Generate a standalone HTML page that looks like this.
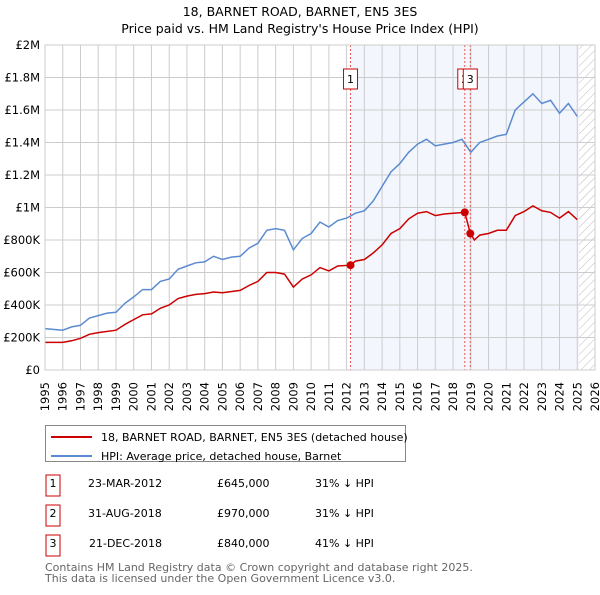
<!DOCTYPE html>
<html><head><meta charset="utf-8"><style>
body{margin:0;background:#fff;font-family:"Liberation Sans","DejaVu Sans",sans-serif;}
svg text{font-family:"DejaVu Sans","Liberation Sans",sans-serif;}
</style></head><body>
<svg id="chart" width="600" height="590" xmlns="http://www.w3.org/2000/svg">
<text x="300" y="16" text-anchor="middle" font-size="12.5">18, BARNET ROAD, BARNET, EN5 3ES</text>
<text x="300" y="33" text-anchor="middle" font-size="12.5">Price paid vs. HM Land Registry's House Price Index (HPI)</text>
<defs><pattern id="hatch" width="6" height="6" patternUnits="userSpaceOnUse" patternTransform="rotate(45)"><line x1="0" y1="0" x2="0" y2="6" stroke="#bbb" stroke-width="1"/></pattern></defs>
<g id="plot"></g>
<g>
<rect x="45.5" y="425.5" width="360" height="36" fill="#fff" stroke="#888"/>
<line x1="51" y1="437" x2="92" y2="437" stroke="#cc0000" stroke-width="2"/>
<text x="101" y="441" font-size="11">18, BARNET ROAD, BARNET, EN5 3ES (detached house)</text>
<line x1="51" y1="456" x2="92" y2="456" stroke="#5b8bd0" stroke-width="2"/>
<text x="101" y="460" font-size="11">HPI: Average price, detached house, Barnet</text>
</g>
<g font-size="11">
<rect x="46" y="475" width="14" height="21" fill="#fff" stroke="#cc0000"/><text x="53" y="487" text-anchor="middle">1</text>
<text x="88" y="487">23-MAR-2012</text><text x="217" y="487">£645,000</text><text x="315" y="487">31% ↓ HPI</text>
<rect x="46" y="505" width="14" height="21" fill="#fff" stroke="#cc0000"/><text x="53" y="517" text-anchor="middle">2</text>
<text x="88" y="517">31-AUG-2018</text><text x="217" y="517">£970,000</text><text x="315" y="517">31% ↓ HPI</text>
<rect x="46" y="535" width="14" height="21" fill="#fff" stroke="#cc0000"/><text x="53" y="547" text-anchor="middle">3</text>
<text x="89" y="547">21-DEC-2018</text><text x="217" y="547">£840,000</text><text x="315" y="547">41% ↓ HPI</text>
</g>
<text x="45" y="571" font-size="11" fill="#666">Contains HM Land Registry data © Crown copyright and database right 2025.</text>
<text x="45" y="582" font-size="11" fill="#666">This data is licensed under the Open Government Licence v3.0.</text>
</svg>
<script>
const hpiYears=[1995,1996,1996.5,1997,1997.5,1998,1998.5,1999,1999.5,2000,2000.5,2001,2001.5,2002,2002.5,2003,2003.5,2004,2004.5,2005,2005.5,2006,2006.5,2007,2007.5,2008,2008.5,2009,2009.5,2010,2010.5,2011,2011.5,2012,2012.5,2013,2013.5,2014,2014.5,2015,2015.5,2016,2016.5,2017,2017.5,2018,2018.5,2019,2019.5,2020,2020.5,2021,2021.5,2022,2022.5,2023,2023.5,2024,2024.5,2025];
const hpiValues=[255,245,265,275,320,335,350,355,410,450,495,495,545,560,620,640,660,665,700,680,695,700,750,780,860,870,860,740,810,840,910,880,920,935,965,980,1040,1130,1220,1270,1340,1390,1420,1380,1390,1400,1420,1340,1400,1420,1440,1450,1600,1650,1700,1640,1660,1580,1640,1560];
const priceYears=[1995,1996,1996.5,1997,1997.5,1998,1999,1999.5,2000,2000.5,2001,2001.5,2002,2002.5,2003,2003.5,2004,2004.5,2005,2006,2006.5,2007,2007.5,2008,2008.5,2009,2009.5,2010,2010.5,2011,2011.5,2012.22,2012.5,2013,2013.5,2014,2014.5,2015,2015.5,2016,2016.5,2017,2017.5,2018,2018.66,2018.97,2019.2,2019.5,2020,2020.5,2021,2021.5,2022,2022.5,2023,2023.5,2024,2024.5,2025];
const priceValues=[170,170,180,195,220,230,245,280,310,340,345,380,400,440,455,465,470,480,475,490,520,545,600,600,590,510,560,585,630,610,640,645,670,680,720,770,840,870,930,965,975,950,960,965,970,840,800,830,840,860,860,950,975,1010,980,970,935,975,925];
const saleLabels=["1","2","3"];
const saleYears=[2012.22,2018.66,2018.97];
const saleValues=[645,970,840];
const yTicks=[0,200,400,600,800,1000,1200,1400,1600,1800,2000];
const yTickLabels=["£0","£200K","£400K","£600K","£800K","£1M","£1.2M","£1.4M","£1.6M","£1.8M","£2M"];
const xTicks=[1995,1996,1997,1998,1999,2000,2001,2002,2003,2004,2005,2006,2007,2008,2009,2010,2011,2012,2013,2014,2015,2016,2017,2018,2019,2020,2021,2022,2023,2024,2025,2026];

const L=45,R=595,T=45,B=370,X0=1995,X1=2026,YMAX=2000;
const x=v=>L+(v-X0)/(X1-X0)*(R-L);
const y=v=>B-v/YMAX*(B-T);
const NS="http://www.w3.org/2000/svg";
const g=document.getElementById('plot');
function mk(tag,attrs,parent){const e=document.createElementNS(NS,tag);for(const k in attrs)e.setAttribute(k,attrs[k]);(parent||g).appendChild(e);return e;}
let e=mk('rect',{x:x(saleYears[0]),y:T,width:x(2025.1)-x(saleYears[0]),height:B-T,fill:'#eef3fc',opacity:0.7});


e=mk('rect',{x:x(2025.1),y:T,width:R-x(2025.1),height:B-T,fill:'url(#hatch)'});


yTicks.forEach((v,i)=>{
  let l=mk('line',{x1:L,x2:R,y1:y(v),y2:y(v),stroke:'#ccc'});
  
  
  let t=mk('text',{x:L-5,y:y(v)+4,'text-anchor':'end','font-size':'11.5'});
  t.textContent=yTickLabels[i];
  
  
});
xTicks.forEach(v=>{
  let l=mk('line',{x1:x(v),x2:x(v),y1:T,y2:B,stroke:'#ccc'});
  
  
  const tx=x(v)+4, ty=B+12;
  let t=mk('text',{x:tx,y:ty,'text-anchor':'end','font-size':'11.5',transform:'rotate(-90 '+tx+' '+ty+')'});
  t.textContent=v;
  
  
});
saleYears.forEach((v,i)=>{
  let l=mk('line',{x1:x(v),x2:x(v),y1:T,y2:B,stroke:'#e55','stroke-dasharray':'2,2'});
  
  
});
function path(xs,vs,color,name){
  const d=xs.map((v,i)=>(i?'L':'M')+x(v).toFixed(1)+','+y(vs[i]).toFixed(1)).join('');
  const p=mk('path',{d:d,fill:'none',stroke:color,'stroke-width':1.5});
  
  
}
path(hpiYears,hpiValues,'#5b8bd0','hpi-line');
path(priceYears,priceValues,'#cc0000','price-paid-line');
saleYears.forEach((v,i)=>{
  let c=mk('circle',{cx:x(v),cy:y(saleValues[i]),r:4,fill:'#cc0000'});
  
  
});
saleLabels.forEach((s,i)=>{
  const bx=x(saleYears[i])-7;
  let r=mk('rect',{x:bx,y:69,width:14,height:20,fill:'#fff',stroke:'#cc0000'});
  
  
  let t=mk('text',{x:bx+7,y:83,'text-anchor':'middle','font-size':'11'});
  t.textContent=s;
  
  
});
let ax=mk('rect',{x:L,y:T,width:R-L,height:B-T,fill:'none',stroke:'#ccc'});


</script>
</body></html>
